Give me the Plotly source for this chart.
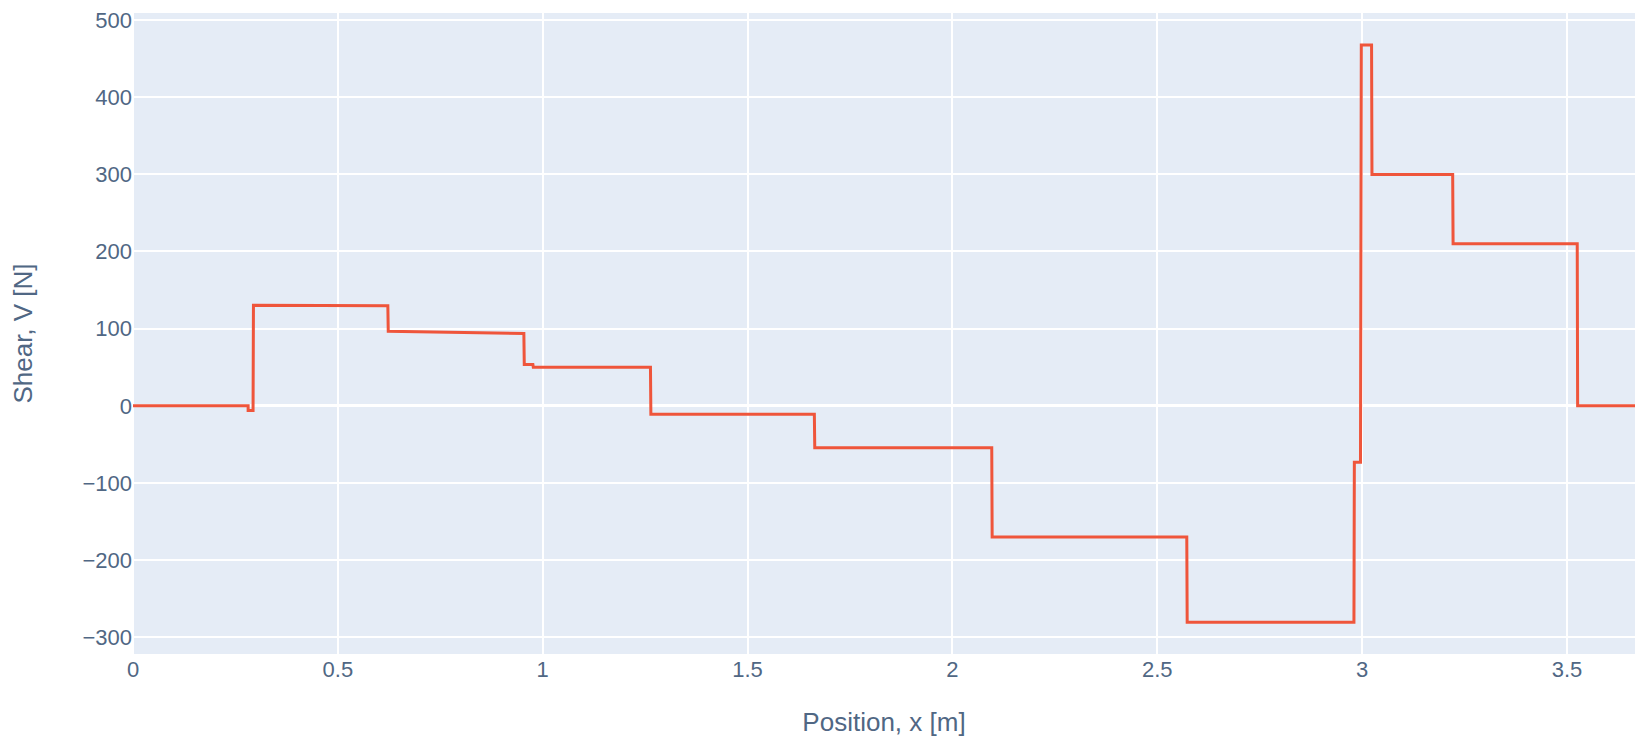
import plotly.graph_objects as go

# Shear force diagram
position_m = [0.0, 0.281, 0.281, 0.293, 0.294, 0.622, 0.623, 0.954, 0.955, 0.976, 0.977,
              1.263, 1.264, 1.663, 1.664, 2.096, 2.097, 2.572, 2.573, 2.980, 2.981,
              2.996, 2.998, 3.023, 3.024, 3.221, 3.222, 3.525, 3.526, 3.666]
shear_N = [0.0, 0.0, -6.0, -6.0, 130.4, 129.6, 96.8, 93.8, 53.7, 53.7, 50.0,
           50.0, -10.8, -10.8, -54.4, -54.4, -169.8, -169.8, -280.5, -280.5, -73.0,
           -73.0, 467.7, 467.7, 299.9, 299.9, 210.0, 210.0, 0.0, 0.0]

x_range = [0, 3.666]
y_range = [-321.5, 509]

fig = go.Figure()
fig.add_trace(go.Scatter(x=position_m, y=shear_N, mode="lines",
                         line=dict(color="#EF553B", width=3), showlegend=False))

fig.update_layout(
    template="plotly",
    width=1635, height=737,
    margin=dict(l=133, r=0, t=13, b=83),
    font=dict(family="Arial", size=22, color="#506784"),
    xaxis=dict(title=dict(text="Position, x [m]", font=dict(size=26), standoff=31),
               range=x_range, dtick=0.5, automargin=False, ticklabeloverflow="allow",
               gridwidth=2, zerolinewidth=2),
    yaxis=dict(title=dict(text="Shear, V [N]", font=dict(size=26), standoff=42),
               range=y_range, dtick=100, automargin=False, ticklabeloverflow="allow",
               gridwidth=2, zerolinewidth=3),
)

fig.write_html("out.html",
               config={"displayModeBar": False},
               post_script="document.body.style.margin='0';document.body.style.overflow='hidden';")
